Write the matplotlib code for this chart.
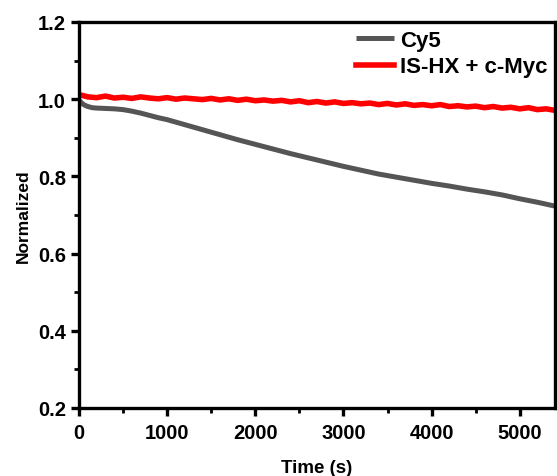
import numpy as np
import matplotlib
matplotlib.use('Agg')
import matplotlib.pyplot as plt
from matplotlib.ticker import MultipleLocator

plt.rcParams['font.family'] = ['Liberation Sans', 'DejaVu Sans']
plt.rcParams['font.weight'] = 'bold'

# Cy5 trace
t_cy5 = [0, 30, 60, 100, 150, 200, 300, 400, 500, 600, 700, 800, 900, 1000,
         1200, 1400, 1600, 1800, 2000, 2200, 2400, 2600, 2800, 3000, 3200,
         3400, 3600, 3800, 4000, 4200, 4400, 4600, 4800, 5000, 5200, 5400]
cy5 = [0.998, 0.990, 0.985, 0.981, 0.978, 0.977, 0.976, 0.975, 0.973, 0.969,
       0.964, 0.958, 0.952, 0.947, 0.934, 0.921, 0.908, 0.895, 0.883, 0.871,
       0.859, 0.848, 0.837, 0.826, 0.816, 0.806, 0.798, 0.790, 0.782, 0.775,
       0.767, 0.760, 0.752, 0.742, 0.733, 0.723]

# IS-HX + c-Myc trace, every 100 s
t_mix = list(range(0, 5500, 100))
mix = [1.012, 1.006, 1.004, 1.008, 1.003, 1.005, 1.002, 1.006, 1.003, 1.001,
       1.004, 1.000, 1.003, 1.001, 0.999, 1.002, 0.998, 1.001, 0.997, 1.000,
       0.996, 0.998, 0.995, 0.997, 0.993, 0.996, 0.991, 0.994, 0.990, 0.993,
       0.989, 0.991, 0.988, 0.990, 0.986, 0.989, 0.985, 0.988, 0.984, 0.986,
       0.983, 0.986, 0.981, 0.983, 0.980, 0.982, 0.978, 0.981, 0.977, 0.979,
       0.975, 0.978, 0.973, 0.975, 0.971]

fig = plt.figure(figsize=(5.57, 4.77), dpi=100)
ax = fig.add_axes([0.1418, 0.1426, 0.8546, 0.8092])

ax.plot(t_cy5, cy5, color='#555555', lw=3.6, label='Cy5', solid_capstyle='butt')
ax.plot(t_mix, mix, color='#ff0000', lw=4.0, label='IS-HX + c-Myc')

ax.set_xlim(0, 5400)
ax.set_ylim(0.2, 1.2)
ax.xaxis.set_major_locator(MultipleLocator(1000))
ax.xaxis.set_minor_locator(MultipleLocator(500))
ax.yaxis.set_major_locator(MultipleLocator(0.2))
ax.yaxis.set_minor_locator(MultipleLocator(0.1))
ax.yaxis.set_major_formatter(plt.FormatStrFormatter('%.1f'))

for s in ax.spines.values():
    s.set_linewidth(2.4)
ax.tick_params(which='major', direction='out', length=6, width=2.4,
               labelsize=14.5, top=False, right=False)
ax.tick_params(axis='x', which='major', pad=5)
ax.tick_params(which='minor', direction='out', length=3.5, width=2.0,
               top=False, right=False)
for lab in ax.get_xticklabels() + ax.get_yticklabels():
    lab.set_fontweight('bold')

ax.set_xlabel('Time (s)', fontsize=13.5, fontweight='bold', labelpad=12)
ax.set_ylabel('Normalized', fontsize=12.5, fontweight='bold', labelpad=5)

ax.legend(loc='upper right', frameon=False, handlelength=1.7,
          handletextpad=0.25, labelspacing=0.25, borderaxespad=0.05,
          borderpad=0.3, prop={'weight': 'bold', 'size': 16})

fig.savefig('out.png', dpi=100)
